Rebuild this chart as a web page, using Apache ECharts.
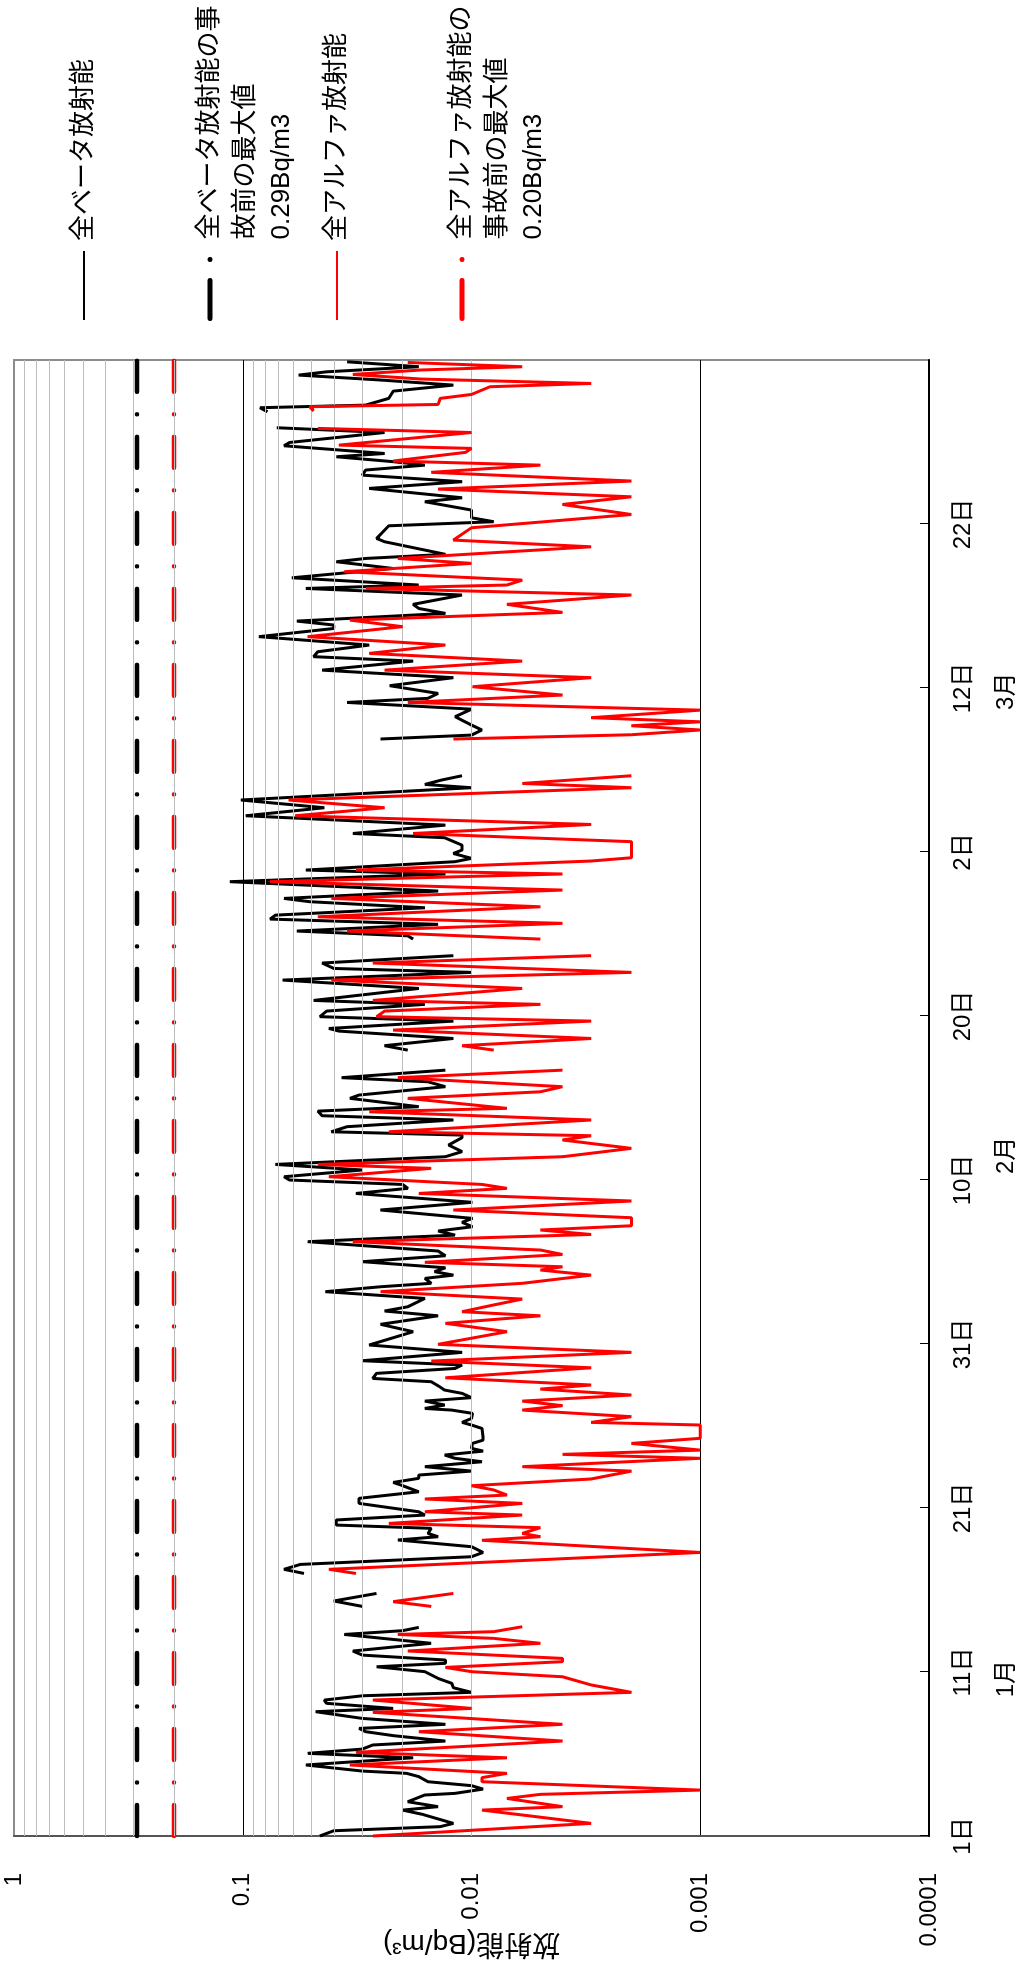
<!DOCTYPE html>
<html><head><meta charset="utf-8">
<script src="https://cdn.jsdelivr.net/npm/echarts@6/dist/echarts.min.js"></script>
<style>
html,body{margin:0;padding:0;background:#fff;overflow:hidden;width:1025px;height:1975px;}
#chart{position:absolute;left:0;top:0;width:1975px;height:1025px;transform-origin:0 0;transform:translateY(1975px) rotate(-90deg);}
</style></head><body><div id="chart"></div>
<script>
// day 0 = 1 Jan, day 90 = 1 Apr
const dateTickLabels = ['1日','11日','21日','31日','10日','20日','2日','12日','22日','1日'];
const monthLabels = ['1月','2月','3月'];
const monthLabelDays = [9.6, 41.5, 69.8];
const yTickLabels = ['1','0.1','0.01','0.001','0.0001'];
const seriesNames = ['全ベータ放射能','全ベータ放射能の事故前の最大値0.29Bq/m3','全アルファ放射能','全アルファ放射能の事故前の最大値0.20Bq/m3'];
const legendTexts = ['全ベータ放射能','\n\n全ベータ放射能の事\n故前の最大値\n0.29Bq/m3','全アルファ放射能','\n\n全アルファ放射能の\n事故前の最大値\n0.20Bq/m3'];
const betaPreMax = 0.29;
const alphaPreMax = 0.20;
const dayRange = [0, 90];

const betaData = [
[0,0.046],[0.32,0.040],[0.57,0.0137],[0.77,0.012],[1.32,0.0164],[1.58,0.020],[1.79,0.014],[2.09,0.019],[2.5,0.016],[2.6,0.0118],[2.86,0.0089],[3.07,0.010],[3.31,0.0155],[3.62,0.017],[3.82,0.0192],[3.96,0.030],[4.33,0.053],[4.77,0.018],[5.04,0.052],[5.30,0.030],[5.55,0.027],[5.79,0.013],[6.12,0.022],[6.36,0.029],[6.56,0.031],[6.81,0.013],[7.17,0.030],[7.58,0.048],[7.78,0.022],[8.09,0.043],[8.29,0.044],[8.55,0.030],[8.76,0.010],[9.04,0.012],[9.31,0.0122],[9.61,0.014],[10.02,0.016],[10.32,0.026],[10.53,0.013],[10.73,0.013],[11.03,0.030],[11.28,0.033],[11.75,0.015],[12.29,0.036],[12.52,0.020],[12.72,0.017],
[13.3,null],
[14.0,0.030],[14.33,0.040],[14.79,0.026],
[15.4,null],
[16.01,0.054],[16.26,0.066],[16.56,0.056],[17.03,0.010],[17.29,0.0089],[17.64,0.010],[18.05,0.021],[18.25,0.014],[18.45,0.0155],[18.76,0.015],[18.96,0.039],[19.27,0.039],[19.57,0.016],[19.77,0.017],[20.28,0.031],[20.59,0.031],[20.99,0.017],[21.36,0.020],[21.56,0.022],[21.81,0.017],[22.01,0.017],[22.25,0.010],[22.52,0.016],[22.82,0.009],[23.03,0.0118],[23.23,0.0131],[23.47,0.0089],[23.64,0.010],[23.94,0.0099],[24.14,0.0089],[24.35,0.0089],[24.85,0.0090],[25.06,0.010],[25.22,0.011],[25.46,0.010],[25.77,0.0099],[25.97,0.0122],[26.07,0.016],[26.28,0.0131],[26.52,0.016],[26.73,0.010],[26.99,0.011],[27.19,0.0131],[27.40,0.0138],[27.70,0.015],[27.90,0.027],[28.21,0.026],[28.51,0.0118],[28.72,0.011],[28.98,0.030],[29.49,0.011],[29.94,0.028],[30.75,0.018],[31.20,0.025],[31.72,0.014],[32.01,0.024],[32.27,0.019],[32.78,0.016],[33.19,0.0435],[33.49,0.025],[33.70,0.015],[34.00,0.016],[34.20,0.012],[34.41,0.0145],[34.65,0.013],[35.02,0.030],[35.38,0.013],[35.67,0.014],[36.24,0.052],[36.64,0.0118],[36.89,0.014],[37.15,0.0099],[37.42,0.011],[37.66,0.0099],[38.17,0.025],[38.64,0.0099],[39.18,0.032],[39.49,0.019],[39.73,0.020],[40.00,0.0625],[40.20,0.066],[40.61,0.030],[40.95,0.072],[41.42,0.013],[41.73,0.011],[42.13,0.0126],[42.58,0.011],[42.74,0.011],[42.94,0.041],[43.25,0.035],[43.66,0.012],[43.92,0.045],[44.2,0.047],[44.47,0.017],[44.98,0.034],[45.18,0.031],[45.69,0.013],[45.99,0.0155],[46.24,0.037],[46.70,0.013],
[47.3,null],
[47.92,0.019],[48.19,0.024],[48.63,0.012],[49.08,0.038],[49.24,0.042],[49.69,0.012],[49.96,0.046],[50.30,0.043],[50.71,0.016],[50.95,0.049],[51.68,0.017],[52.19,0.067],[52.66,0.010],[52.90,0.040],[53.23,0.045],[53.68,0.012],
[54.2,null],
[54.69,0.018],[54.89,0.019],[55.18,0.058],[55.59,0.014],[55.91,0.076],[56.15,0.072],[56.60,0.016],[56.97,0.051],[57.17,0.066],[57.62,0.014],[58.19,0.114],[58.66,0.013],[58.90,0.053],[59.41,0.0118],[59.61,0.010],[59.91,0.012],[60.12,0.011],[60.42,0.011],[60.87,0.0131],[61.13,0.033],[61.64,0.013],[62.21,0.097],[62.70,0.044],[63.17,0.102],[63.92,0.010],[64.12,0.016],[64.39,0.0135],[64.65,0.011],
[65.8,null],
[66.89,0.025],[67.13,0.010],[67.44,0.009],[67.74,0.010],[68.25,0.0118],[68.71,0.010],[69.12,0.035],[69.37,0.0155],[69.67,0.014],[70.14,0.0228],[70.63,0.012],[71.09,0.045],[71.64,0.018],[71.91,0.049],[72.21,0.047],[72.62,0.028],[73.13,0.085],[73.63,0.040],[73.84,0.040],[74.08,0.058],[74.55,0.013],[74.85,0.017],[75.10,0.018],[75.67,0.011],[76.07,0.053],[76.28,0.017],[76.72,0.061],[77.29,0.022],[77.70,0.039],[77.90,0.029],[78.15,0.013],[78.92,0.024],[79.12,0.026],[79.89,0.023],[80.14,0.008],[80.38,0.010],[80.85,0.010],[81.36,0.016],[81.60,0.011],[82.17,0.028],[82.58,0.011],[82.98,0.030],[83.29,0.029],[83.59,0.016],[83.80,0.022],[84.10,0.039],[84.30,0.024],[84.77,0.066],[84.97,0.0625],[85.58,0.024],[85.87,0.071],
[86.3,null],
[86.84,0.078],[87.09,0.084],[87.25,0.029],[87.66,0.023],[88.10,0.022],[88.27,0.0167],[88.47,0.012],[88.78,0.025],[89.08,0.057],[89.28,0.043],[89.59,0.017],[89.89,0.035]
];

const alphaData = [
[0,0.027],[0.77,0.003],[1.58,0.009],[1.79,0.004],[2.29,0.007],[2.54,0.005],[2.80,0.001],[3.31,0.009],[3.56,0.009],[3.82,0.007],[4.33,0.034],[4.77,0.007],[5.10,0.032],[5.79,0.004],[6.36,0.017],[6.81,0.004],[7.54,0.027],[7.78,0.010],[8.29,0.027],[8.76,0.002],[9.21,0.003],[9.71,0.004],[10.02,0.010],[10.28,0.013],[10.63,0.004],[10.83,0.004],[11.28,0.019],[11.75,0.005],[12.05,0.008],[12.29,0.021],[12.46,0.008],[12.76,0.006],
[13.3,null],
[14.0,0.015],[14.29,0.022],[14.79,0.012],
[15.4,null],
[16.01,0.032],[16.26,0.042],[17.29,0.001],[18.03,0.009],[18.25,0.005],[18.45,0.006],[18.80,0.005],[19.06,0.023],[19.57,0.006],[19.77,0.016],[20.28,0.006],[20.55,0.016],[20.79,0.007],[21.10,0.008],[21.36,0.010],[21.77,0.003],[22.25,0.002],[22.52,0.006],[23.03,0.001],[23.27,0.004],[23.53,0.001],[23.94,0.002],[24.25,0.001],[25.06,0.001],[25.22,0.003],[25.57,0.002],[25.97,0.006],[26.24,0.004],[26.52,0.006],[26.89,0.002],[27.25,0.005],[27.50,0.003],[27.94,0.013],[28.55,0.003],[28.96,0.015],[29.49,0.002],[29.98,0.014],[30.75,0.007],[31.26,0.013],[31.72,0.005],[31.97,0.011],[32.38,0.008],[32.74,0.006],[33.19,0.025],[33.70,0.006],[34.20,0.003],[34.51,0.005],[34.71,0.004],[34.98,0.016],[35.46,0.004],[35.73,0.005],[36.24,0.033],[36.68,0.003],[36.95,0.005],[37.21,0.002],[37.70,0.002],[38.17,0.012],[38.72,0.002],[39.18,0.017],[39.49,0.007],[39.73,0.009],[40.20,0.042],[40.71,0.015],[40.95,0.047],[41.42,0.004],[41.93,0.002],[42.44,0.004],[42.70,0.003],[42.94,0.023],[43.66,0.003],[44.16,0.028],[44.37,0.007],[44.98,0.019],[45.38,0.005],[45.69,0.004],[46.24,0.021],[46.70,0.004],
[47.3,null],
[47.92,0.008],[48.19,0.011],[48.63,0.003],[49.14,0.022],[49.69,0.003],[49.96,0.026],[50.30,0.024],[50.71,0.005],[50.95,0.027],[51.68,0.006],[52.19,0.041],[52.66,0.002],[53.23,0.027],[53.68,0.003],
[54.2,null],
[54.69,0.005],[55.18,0.035],[55.65,0.004],[56.05,0.047],[56.66,0.005],[57.17,0.041],[57.68,0.004],[58.19,0.076],[58.66,0.004],[58.90,0.032],[59.45,0.003],[59.65,0.002],[60.63,0.002],[61.13,0.018],[61.68,0.003],[62.21,0.059],[62.70,0.024],[63.17,0.063],[63.92,0.002],[64.18,0.006],[64.65,0.002],
[65.8,null],
[66.89,0.012],[67.15,0.002],[67.44,0.001],[67.70,0.002],[67.94,0.001],[68.19,0.003],[68.65,0.001],[69.12,0.019],[69.57,0.004],[70.08,0.0099],[70.63,0.003],[71.09,0.024],[71.64,0.006],[72.11,0.028],[72.62,0.013],[73.13,0.052],[73.74,0.020],[74.14,0.034],[74.61,0.004],[75.10,0.007],[75.67,0.002],[76.07,0.029],[76.28,0.007],[76.58,0.006],[77.09,0.036],[77.60,0.010],[77.90,0.021],[78.61,0.003],[79.02,0.012],[79.77,0.010],[80.58,0.002],[81.19,0.004],[81.66,0.002],[82.13,0.014],[82.62,0.002],[83.15,0.015],[83.59,0.005],[83.84,0.022],[84.37,0.0106],[84.61,0.010],[84.81,0.038],[85.58,0.010],[85.83,0.047],
[86.3,null],
[86.89,0.049],[87.15,0.051],[87.29,0.014],[87.66,0.0137],[87.90,0.010],[88.37,0.0083],[88.57,0.003],[88.84,0.0167],[89.12,0.033],[89.39,0.0167],[89.59,0.006],[89.85,0.019]
];

const FONT = "'Liberation Sans','Noto Sans CJK JP',sans-serif";

// minor log grid lines (2..9 x 10^k)
const minorGrid = [];
for (let k = -4; k <= -1; k++) {
  for (let m = 2; m <= 9; m++) minorGrid.push({ yAxis: +(m * Math.pow(10, k)).toPrecision(3) });
}

const dashDot = [31, 22.5, 0.01, 22.5];
const legendDashDot = [38, 21, 0.01, 20];

function legendFor(i, top, lineStyle) {
  const lg = {
    data: [seriesNames[i]], orient: 'vertical', left: 1654, top: top, padding: 0,
    itemWidth: 69, itemHeight: 14, selectedMode: false,
    itemStyle: { opacity: 0, borderWidth: 0 },
    formatter: () => legendTexts[i],
    textStyle: { fontSize: 26, fontFamily: FONT, color: '#000', lineHeight: 36, padding: [0, 0, 0, 5] }
  };
  if (lineStyle) lg.lineStyle = lineStyle;
  return lg;
}

const chart = echarts.init(document.getElementById('chart'), null, { renderer: 'canvas' });
chart.setOption({
  animation: false,
  backgroundColor: '#fff',
  grid: { left: 139, right: 360, top: 14, bottom: 96, show: true, borderColor: '#8c8c8c', borderWidth: 2 },
  legend: [
    legendFor(0, 66, { width: 2 }),
    legendFor(1, 120, { width: 5, type: legendDashDot, cap: 'round' }),
    legendFor(2, 319, { width: 2 }),
    legendFor(3, 372, { width: 5, type: legendDashDot, cap: 'round' })
  ],
  xAxis: [{
    type: 'value', min: dayRange[0], max: dayRange[1], interval: 10, position: 'bottom',
    axisLine: { show: true, onZero: false, lineStyle: { color: '#000', width: 2 } },
    axisTick: { show: true, inside: true, length: 9, lineStyle: { color: '#000', width: 1 } },
    axisLabel: { margin: 22, fontSize: 24, color: '#000', fontFamily: FONT, showMinLabel: true, showMaxLabel: false,
      formatter: v => dateTickLabels[Math.round(v / 10)] },
    splitLine: { show: false }
  }, {
    type: 'value', min: dayRange[0], max: dayRange[1], position: 'bottom', offset: 43,
    axisLine: { show: false }, axisTick: { show: false }, splitLine: { show: false },
    axisLabel: { margin: 22, fontSize: 24, color: '#000', fontFamily: FONT, customValues: monthLabelDays,
      formatter: v => monthLabels[monthLabelDays.indexOf(v)] || '' }
  }],
  yAxis: {
    type: 'log', logBase: 10, min: 0.0001, max: 1,
    axisLine: { show: true, lineStyle: { color: '#555', width: 2 } },
    axisTick: { show: false },
    axisLabel: { margin: 37, fontSize: 24, color: '#000', fontFamily: FONT,
      formatter: v => yTickLabels[Math.round(-Math.log10(v))] },
    splitLine: { show: true, showMaxLine: false, lineStyle: { color: '#000', width: 1 } },
    name: '放射能(Bq/m³)', nameLocation: 'middle', nameGap: 93, nameMoveOverlap: false,
    nameTextStyle: { fontSize: 28, color: '#000', fontFamily: FONT }
  },
  series: [
    { type: 'line', name: 'grid', data: [], z: 1, silent: true,
      markLine: { silent: true, symbol: ['none', 'none'], label: { show: false }, animation: false,
        lineStyle: { color: '#bdbdbd', width: 1, type: 'solid' }, data: minorGrid } },
    { type: 'line', name: seriesNames[1], data: [[dayRange[0], betaPreMax], [dayRange[1], betaPreMax]],
      symbol: 'none', color: '#000', z: 3, silent: true,
      lineStyle: { color: '#000', width: 4.5, type: dashDot, cap: 'round' } },
    { type: 'line', name: seriesNames[3], data: [[dayRange[0], alphaPreMax], [dayRange[1], alphaPreMax]],
      symbol: 'none', color: '#ff0000', z: 3, silent: true,
      lineStyle: { color: '#ff0000', width: 4.5, type: dashDot, cap: 'round' } },
    { type: 'line', name: seriesNames[0], data: betaData, symbol: 'none', color: '#000', z: 4,
      connectNulls: false, lineStyle: { color: '#000', width: 3 } },
    { type: 'line', name: seriesNames[2], data: alphaData, symbol: 'none', color: '#ff0000', z: 5,
      connectNulls: false, lineStyle: { color: '#ff0000', width: 3 } }
  ]
});
</script></body></html>
